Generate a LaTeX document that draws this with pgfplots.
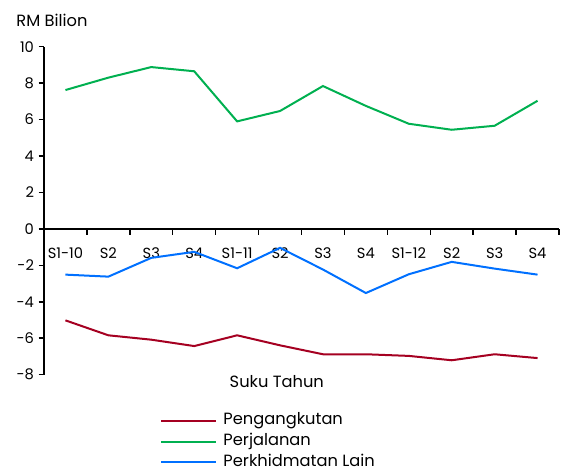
\documentclass[border=0pt]{standalone}
\usepackage{fontspec}
\setmainfont{Poppins}
\usepackage{pgfplots}
\pgfplotsset{compat=1.18}
\definecolor{cRed}{RGB}{165,0,33}
\definecolor{cGreen}{RGB}{0,176,80}
\definecolor{cBlue}{RGB}{0,112,255}

\begin{document}
\begin{tikzpicture}
\begin{axis}[
  scale only axis, width=386.25pt, height=246pt,
  xmin=-0.5, xmax=11.5, ymin=-8, ymax=10,
  axis x line=middle, axis y line=left,
  axis line style={line width=1.3pt, -},
  tick align=outside,
  xtick={0,...,11},
  xticklabels={S1-10,S2,S3,S4,S1-11,S2,S3,S4,S1-12,S2,S3,S4},
  minor xtick={-0.5,0.5,...,11.5},
  major x tick style={draw=none},
  minor x tick style={line width=1.1pt, black},
  minor tick length=4.5pt,
  major tick length=4pt,
  y tick style={line width=1.1pt, black},
  ytick={-8,-6,...,10},
  yticklabels={-8,-6,-4,-2,0,2,4,6,8,10},
  ticklabel style={font=\fontsize{11}{13}\selectfont},
  xticklabel style={yshift=-6.5pt},
  xlabel={Suku Tahun},
  x label style={at={(axis description cs:0.452,-0.022)}, anchor=center, font=\fontsize{12.2}{14}\selectfont},
  legend cell align=left,
  legend style={at={(axis description cs:0.225,-0.116)}, anchor=north west, draw=none, fill=none,
    inner sep=0pt, row sep=3.4pt, font=\fontsize{12.2}{14}\selectfont,
    nodes={inner sep=0pt, text height=9pt, text depth=3pt},
    /tikz/every odd column/.append style={column sep=5pt}},
  legend image code/.code={\draw[#1] (0pt,0pt) -- (41pt,0pt);},
  every axis plot/.append style={line width=1.5pt, no marks},
  clip=false,
]
\coordinate (bl) at (rel axis cs:0,0);
\coordinate (tr) at (rel axis cs:1,1);
\node[anchor=center, font=\fontsize{12.2}{14}\selectfont] at (rel axis cs:0.0155,1.081) {RM Bilion};
\addplot[cRed] coordinates {
  (0,-5.02)(1,-5.84)(2,-6.08)(3,-6.43)(4,-5.84)(5,-6.39)
  (6,-6.88)(7,-6.88)(8,-6.97)(9,-7.21)(10,-6.88)(11,-7.09)
};
\addlegendentry{Pengangkutan}
\addplot[cGreen] coordinates {
  (0,7.62)(1,8.30)(2,8.88)(3,8.65)(4,5.90)(5,6.47)
  (6,7.84)(7,6.75)(8,5.77)(9,5.44)(10,5.66)(11,7.03)
};
\addlegendentry{Perjalanan}
\addplot[cBlue] coordinates {
  (0,-2.51)(1,-2.62)(2,-1.59)(3,-1.26)(4,-2.16)(5,-1.04)
  (6,-2.23)(7,-3.52)(8,-2.49)(9,-1.81)(10,-2.18)(11,-2.51)
};
\addlegendentry{Perkhidmatan Lain}
\end{axis}
\pgfresetboundingbox
\path ([shift={(-33pt,-73pt)}]bl) rectangle ([shift={(1.5pt,35pt)}]tr);
\end{tikzpicture}
\end{document}
